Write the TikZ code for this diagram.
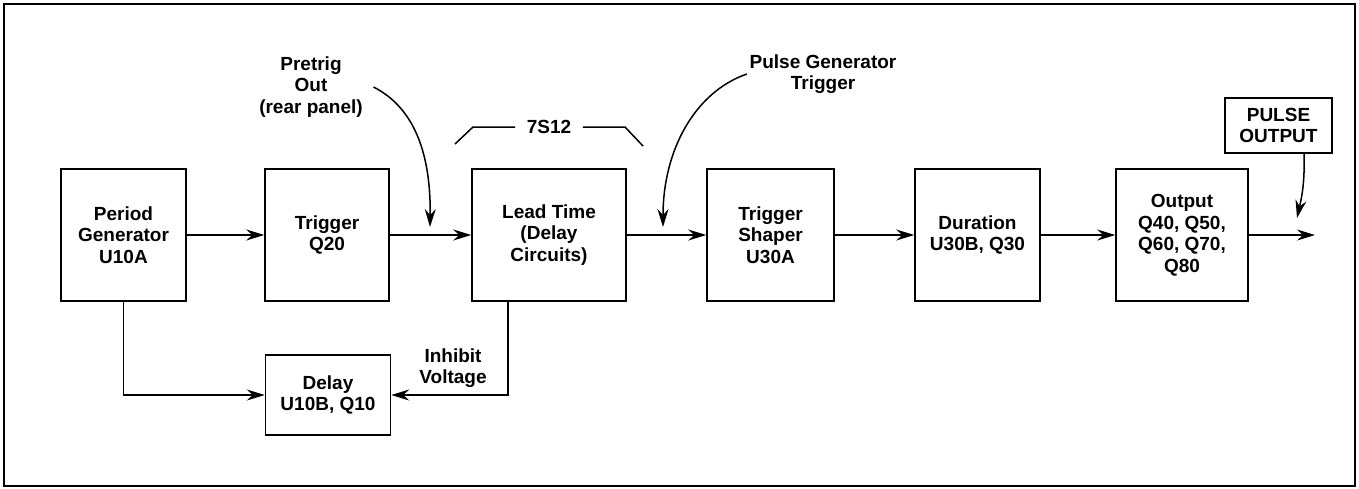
\documentclass[tikz,border=0pt]{standalone}
\usepackage{fontspec}
\setmainfont{Liberation Sans}
\usetikzlibrary{arrows.meta}

\begin{document}
\begin{tikzpicture}[x=1pt,y=-1pt,line width=1.5pt,
    font=\fontsize{19}{21.5}\selectfont\bfseries,
    blk/.style={draw,align=center,minimum height=132pt,inner sep=2pt},
    lbl/.style={align=center,inner sep=2pt},
    sig/.style={-{Stealth[length=18pt,width=11pt,inset=6pt]}}]
\useasboundingbox (0,0) rectangle (1359,488);
\draw[line width=2.5pt] (4,4) rectangle (1355,486);
% main chain
 \node[blk,minimum width=125pt] (pg)    at (123.5,235) {Period\\Generator\\U10A};
 \node[blk,minimum width=124pt] (trig)  at (327,235)   {Trigger\\Q20};
 \node[blk,minimum width=154pt] (lead)  at (549,235)   {Lead Time\\(Delay\\Circuits)};
 \node[blk,minimum width=127pt] (shape) at (770.5,235) {Trigger\\Shaper\\U30A};
 \node[blk,minimum width=125pt] (dur)   at (977.5,235) {Duration\\U30B, Q30};
 \node[blk,minimum width=132pt] (out)   at (1182,235)  {Output\\Q40, Q50,\\Q60, Q70,\\Q80};
 \node[blk,minimum width=125pt,minimum height=80pt] (del) at (328,395) {Delay\\U10B, Q10};
 \coordinate (end) at (1315,235);
% labels
 \node[lbl] (pt)  at (311,87)  {Pretrig\\Out\\(rear panel)};
 \node[lbl] (pgt) at (823,74)  {Pulse Generator\\Trigger};
 \node[lbl] (ihv) at (453,368) {Inhibit\\Voltage};
 \node[inner sep=11pt] (s12) at (549,127) {7S12};
 \node[draw,align=center,minimum width=107pt,minimum height=55pt,inner sep=2pt] (po) at (1278.5,125.5) {PULSE\\OUTPUT};
 \coordinate (ptin)  at (430,227);
 \coordinate (pgtin) at (663,227);
 \coordinate (poin)  at (1297,218);
% connectors
 \draw[sig] (pg) -- (trig);
 \draw[sig] (trig) -- (lead);
 \draw[sig] (lead) -- (shape);
 \draw[sig] (shape) -- (dur);
 \draw[sig] (dur) -- (out);
 \draw[sig] (out) -- (end);
 \draw[sig] (pg.south) |- (del);
 \draw[sig] ([xshift=-41pt]lead.south) |- (del);
 \draw[sig] ([xshift=8pt]pt.east) .. controls (415,108) and (431,155) .. (ptin);
 \draw[sig] (pgt.west) .. controls (695,92) and (663,150) .. (pgtin);
 \draw[sig] ([xshift=25.5pt]po.south) .. controls (1305,185) and (1301,200) .. (poin);
 \draw (455,144) -- (473,127) -- (s12.west);
 \draw (s12.east) -- (625,127) -- (643,146);
\end{tikzpicture}
\end{document}
